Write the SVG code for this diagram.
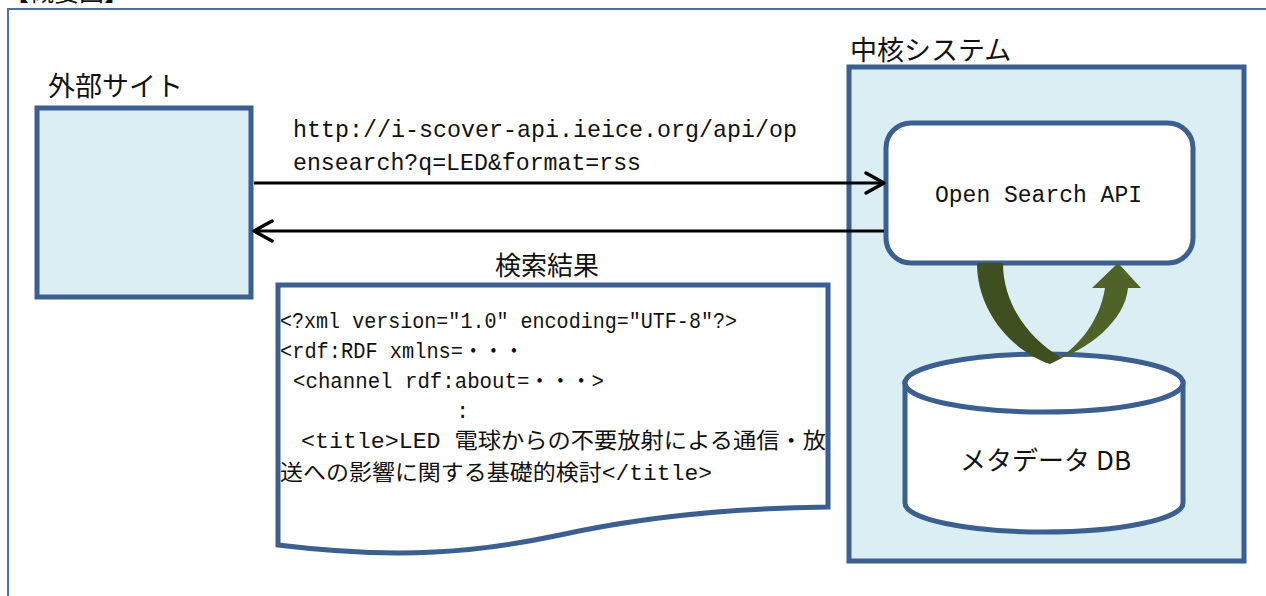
<svg xmlns="http://www.w3.org/2000/svg" width="1266" height="596" viewBox="0 0 1266 596">
  <style>
    .jp { font-family: "Noto Sans CJK JP", "Noto Sans", sans-serif; fill: #111; }
    .mono { font-family: "Liberation Mono", "Noto Sans CJK JP", monospace; fill: #111; }
    .box { fill: #dbeef4; stroke: #3b5f8f; stroke-width: 5; }
    .white { fill: #ffffff; stroke: #3b5f8f; stroke-width: 5; }
    .conn { stroke: #000; stroke-width: 3; fill: none; }
    .head { stroke: #000; stroke-width: 3.5; fill: none; stroke-linecap: round; stroke-linejoin: round; }
  </style>
  <rect x="0" y="0" width="1266" height="596" fill="#ffffff"/>
  <g id="title">
    <text class="jp" x="4" y="1" font-size="25">【概要図】</text>
  </g>
  <g id="frame">
    <rect x="8" y="9" width="1300" height="700" fill="none" stroke="#4f6fa0" stroke-width="2"/>
  </g>
  <g id="external-site">
    <text class="jp" x="48" y="96" font-size="27">外部サイト</text>
    <rect class="box" x="37" y="108" width="214" height="189" stroke-width="4.5"/>
  </g>
  <g id="core-system">
    <text class="jp" x="850" y="60" font-size="27">中核システム</text>
    <rect class="box" x="849" y="67" width="395" height="494"/>
  </g>
  <g id="open-search-api">
    <rect class="white" x="886" y="123" width="307" height="140" rx="25" ry="25"/>
    <text class="mono" x="935" y="202" font-size="23" textLength="207" lengthAdjust="spacingAndGlyphs">Open Search API</text>
  </g>
  <g id="metadata-db">
    <path class="white" d="M905,383 L905,503 A139,29 0 0 0 1183,503 L1183,383 Z"/>
    <ellipse class="white" cx="1044" cy="383" rx="139" ry="29"/>
    <text class="jp" x="960" y="470" font-size="26" textLength="171" lengthAdjust="spacingAndGlyphs">メタデータ DB</text>
  </g>
  <g id="result-doc">
    <path class="white" d="M278,285 L828,285 L828,507 C740,508 650,515 560,535 C480,552 400,560 278,545 Z"/>
    <g class="mono" font-size="22">
      <text x="280" y="328" textLength="457" lengthAdjust="spacingAndGlyphs">&lt;?xml version="1.0" encoding="UTF-8"?&gt;</text>
      <text x="280" y="358" textLength="244" lengthAdjust="spacingAndGlyphs">&lt;rdf:RDF xmlns=・・・</text>
      <text x="293" y="388" textLength="311" lengthAdjust="spacingAndGlyphs">&lt;channel rdf:about=・・・&gt;</text>
      <text x="456" y="418">:</text>
      <text x="301" y="448" textLength="525" lengthAdjust="spacingAndGlyphs">&lt;title&gt;LED 電球からの不要放射による通信・放</text>
      <text x="280" y="480" textLength="432" lengthAdjust="spacingAndGlyphs">送への影響に関する基礎的検討&lt;/title&gt;</text>
    </g>
  </g>
  <g id="connectors">
    <line class="conn" x1="254" y1="183" x2="883" y2="183"/>
    <polyline class="head" points="866,173 884,183 866,193"/>
    <line class="conn" x1="884" y1="231" x2="255" y2="231"/>
    <polyline class="head" points="272,221 254,231 272,241"/>
    <text class="mono" x="293" y="137" font-size="24" textLength="504" lengthAdjust="spacingAndGlyphs">http://i-scover-api.ieice.org/api/op</text>
    <text class="mono" x="293" y="170" font-size="24" textLength="348" lengthAdjust="spacingAndGlyphs">ensearch?q=LED&amp;format=rss</text>
    <text class="jp" x="547" y="275" font-size="26" text-anchor="middle">検索結果</text>
    <path d="M977,263 L1003,263 C1003,305 1030,340 1062,358 L1050,364 C1010,350 977,310 977,263 Z" fill="#3f4f20"/>
    <path d="M1048,363 C1090,350 1125,320 1128,288 L1141,288 L1118,263 L1092,288 L1105,288 C1100,320 1080,345 1058,359 Z" fill="#4f6228"/>
  </g>
</svg>
